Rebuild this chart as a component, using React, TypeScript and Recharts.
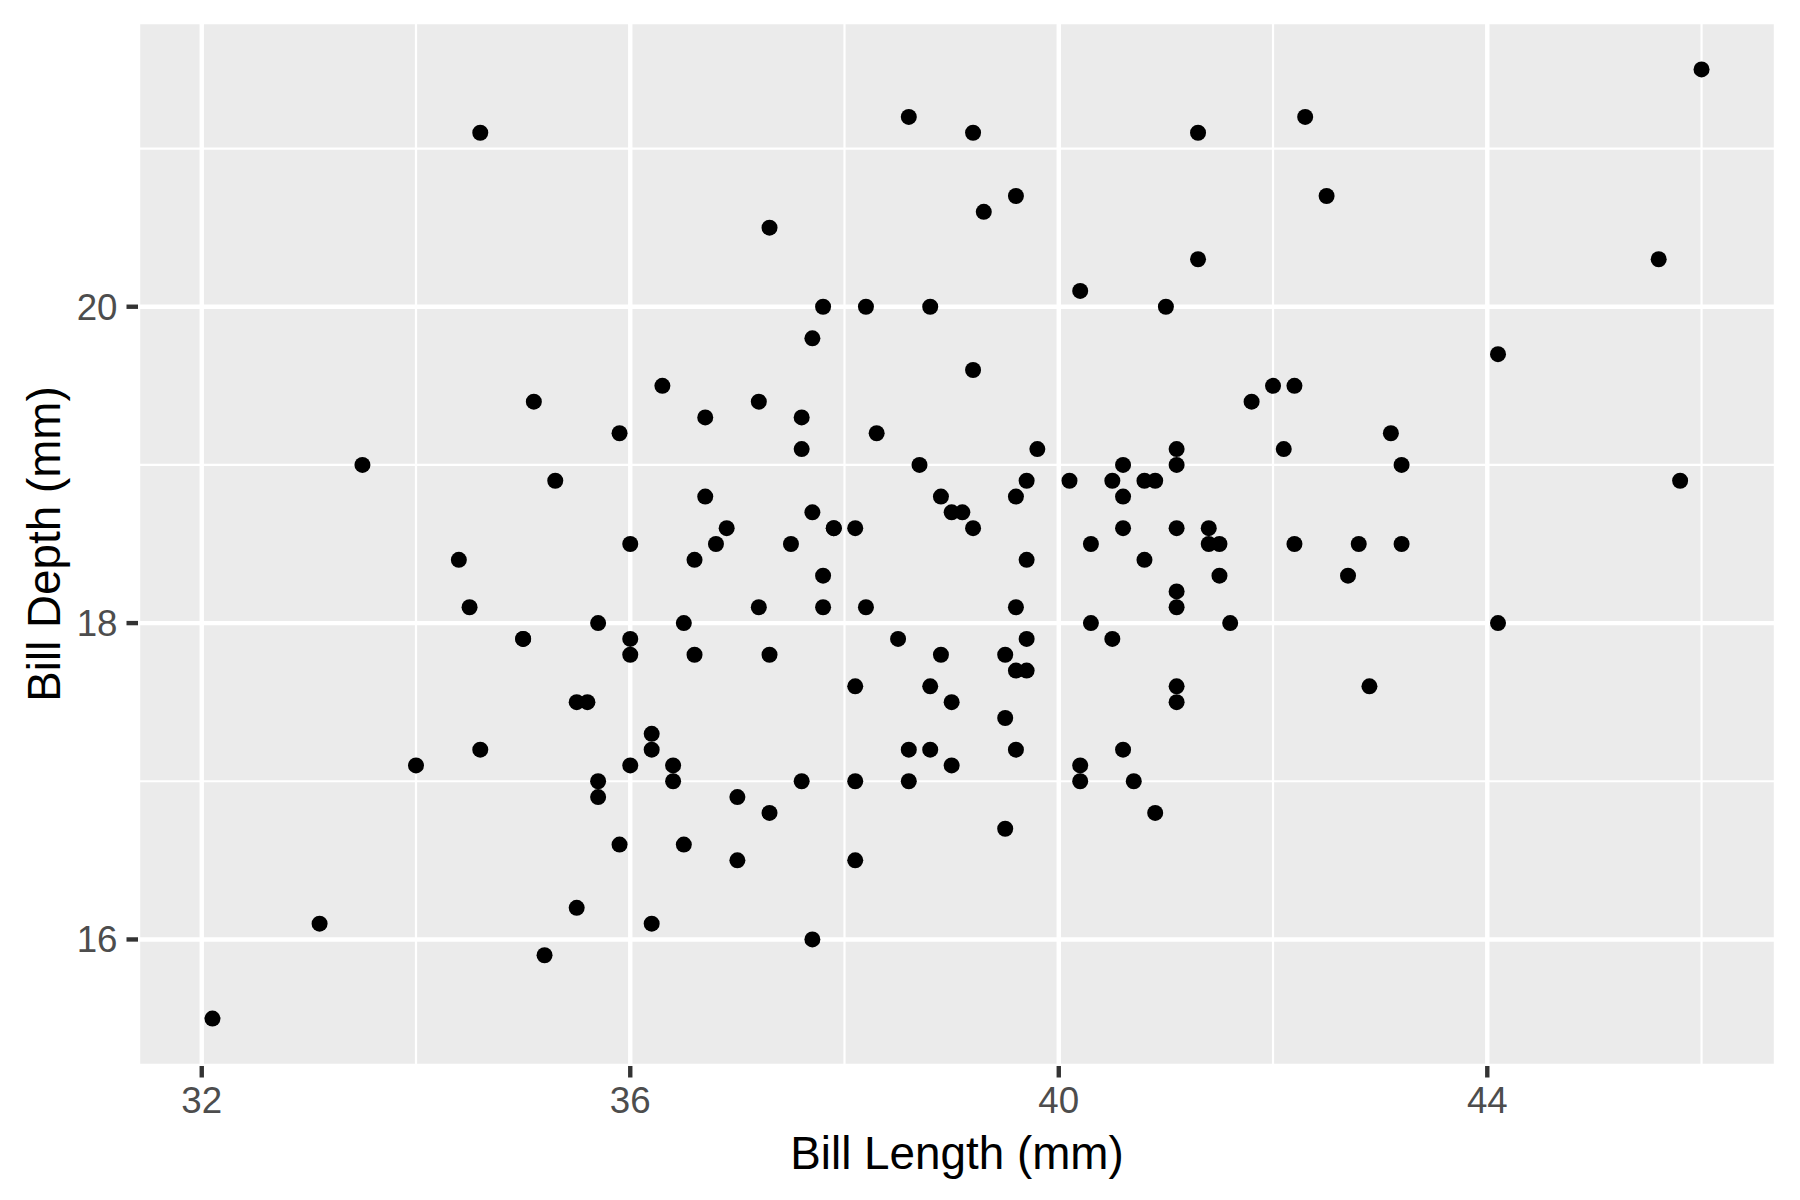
import { CartesianGrid, ReferenceLine, Scatter, ScatterChart, XAxis, YAxis } from "recharts";

// Adelie penguins, bill length vs bill depth (mm)
const billLength = [
  39.1, 39.5, 40.3, 36.7, 39.3, 38.9, 39.2, 41.1, 38.6, 34.6,
  36.6, 38.7, 42.5, 34.4, 46.0, 37.8, 37.7, 35.9, 38.2, 38.8,
  35.3, 40.6, 40.5, 37.9, 40.5, 39.5, 37.2, 39.5, 40.9, 36.4,
  39.2, 38.8, 42.2, 37.6, 39.8, 36.5, 40.8, 36.0, 44.1, 37.0,
  39.6, 41.1, 36.0, 42.3, 39.6, 40.1, 35.0, 42.0, 34.5, 41.4,
  39.0, 40.6, 36.5, 37.6, 35.7, 41.3, 37.6, 41.1, 36.4, 41.6,
  35.5, 41.1, 35.9, 41.8, 33.5, 39.7, 39.6, 45.8, 35.5, 42.8,
  40.9, 37.2, 36.2, 42.1, 34.6, 42.9, 36.7, 35.1, 37.3, 41.3,
  36.3, 36.9, 38.3, 38.9, 35.7, 41.1, 34.0, 39.6, 36.2, 40.8,
  38.1, 40.3, 33.1, 43.2, 35.0, 41.0, 37.7, 37.8, 37.9, 39.7,
  38.6, 38.2, 38.1, 43.2, 38.1, 45.6, 39.7, 42.2, 39.6, 42.7,
  38.6, 37.3, 35.7, 41.1, 36.2, 37.7, 40.2, 41.4, 35.2, 40.6,
  38.8, 41.5, 39.0, 44.1, 38.5, 43.1, 36.8, 37.5, 38.1, 41.1,
  35.6, 40.2, 37.0, 39.7, 40.2, 40.6, 32.1, 40.7, 37.3, 39.0,
  39.2, 36.6, 36.0, 37.8, 36.0, 41.5,
];

const billDepth = [
  18.7, 17.4, 18.0, 19.3, 20.6, 17.8, 19.6, 17.6, 21.2, 21.1,
  17.8, 19.0, 20.7, 18.4, 21.5, 18.3, 18.7, 19.2, 18.1, 17.2,
  18.9, 18.6, 17.9, 18.6, 18.9, 16.7, 18.1, 17.8, 18.9, 17.0,
  21.1, 20.0, 18.5, 19.3, 19.1, 18.0, 18.4, 18.5, 19.7, 16.9,
  18.8, 19.0, 17.9, 21.2, 17.7, 18.9, 17.9, 19.5, 18.1, 18.6,
  17.5, 18.8, 16.6, 19.1, 16.9, 21.1, 17.0, 18.2, 17.1, 18.0,
  16.2, 19.1, 16.6, 19.4, 19.0, 18.4, 17.2, 18.9, 17.5, 18.5,
  16.8, 19.4, 16.1, 19.1, 17.2, 17.6, 18.8, 19.4, 17.8, 20.3,
  19.5, 18.6, 19.2, 18.8, 18.0, 18.1, 17.1, 18.1, 17.3, 18.9,
  18.6, 18.5, 16.1, 18.5, 17.9, 20.0, 16.0, 20.0, 18.6, 18.9,
  17.2, 20.0, 17.0, 19.0, 16.5, 20.3, 17.7, 19.5, 20.7, 18.3,
  17.0, 20.5, 17.0, 18.6, 17.2, 19.8, 17.0, 18.5, 15.9, 19.0,
  17.6, 18.3, 17.1, 18.0, 17.9, 19.2, 18.5, 18.5, 17.6, 17.5,
  17.5, 20.1, 16.5, 17.9, 17.1, 17.2, 15.5, 17.0, 16.8, 18.7,
  18.6, 18.4, 17.8, 18.1, 17.1, 18.5,
];

const xTicks = [32, 36, 40, 44];
const yTicks = [16, 18, 20];
const xMinor = [34, 38, 42, 46];
const yMinor = [17, 19, 21];

const FONT = "'Liberation Sans', Arial, sans-serif";

// ggplot-style 5% expansion of the data range
function expand(values: number[]): [number, number] {
  const lo = Math.min(...values);
  const hi = Math.max(...values);
  const pad = (hi - lo) * 0.05;
  return [lo - pad, hi + pad];
}

function Dot(props: any) {
  return <circle cx={props.cx} cy={props.cy} r={8} fill="#000000" />;
}

export default function App() {
  const data = billLength.map((x, i) => ({ x, y: billDepth[i] }));
  const tick = { fill: "#4D4D4D", fontSize: 36.7, fontFamily: FONT };

  return (
    <div style={{ position: "absolute", left: 0, top: 0, width: 1800, height: 1200, background: "#fff" }}>
      <ScatterChart width={1800} height={1200} margin={{ top: 22, right: 24, bottom: 0, left: 0 }}>
        <CartesianGrid fill="#EBEBEB" stroke="#FFFFFF" strokeWidth={4.4} />
        {xMinor.map((v) => (
          <ReferenceLine key={`mx${v}`} x={v} stroke="#FFFFFF" strokeWidth={2.2} />
        ))}
        {yMinor.map((v) => (
          <ReferenceLine key={`my${v}`} y={v} stroke="#FFFFFF" strokeWidth={2.2} />
        ))}
        <XAxis
          type="number"
          dataKey="x"
          domain={expand(billLength)}
          ticks={xTicks}
          interval={0}
          height={134}
          axisLine={false}
          tickSize={11.5}
          tickMargin={9}
          tickLine={{ stroke: "#333333", strokeWidth: 4.4 }}
          tick={tick}
          label={{
            value: "Bill Length (mm)",
            position: "insideBottom",
            offset: 31,
            style: { fill: "#000", fontSize: 45.8, fontFamily: FONT },
          }}
        />
        <YAxis
          type="number"
          dataKey="y"
          domain={expand(billDepth)}
          ticks={yTicks}
          interval={0}
          width={138}
          axisLine={false}
          tickSize={11.5}
          tickMargin={9}
          tickLine={{ stroke: "#333333", strokeWidth: 4.4 }}
          tick={tick}
          label={{
            value: "Bill Depth (mm)",
            angle: -90,
            position: "insideLeft",
            offset: 44,
            style: { fill: "#000", fontSize: 45.8, fontFamily: FONT, textAnchor: "middle" },
          }}
        />
        <Scatter data={data} shape={Dot} isAnimationActive={false} />
      </ScatterChart>
    </div>
  );
}
